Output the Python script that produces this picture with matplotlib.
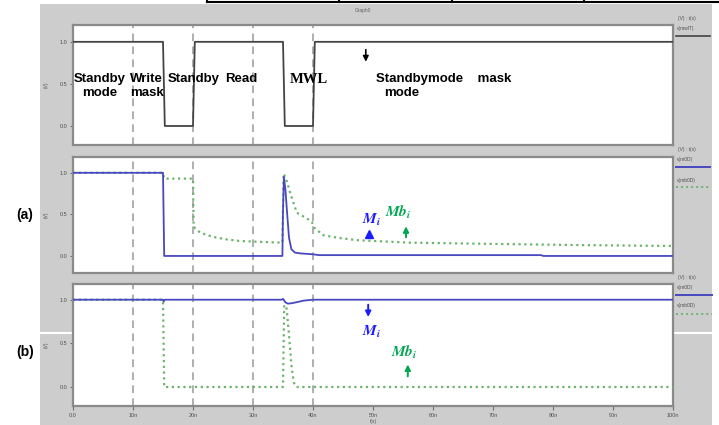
import matplotlib.pyplot as plt
from matplotlib.patches import Rectangle

plt.rcParams['font.family'] = ['Liberation Sans', 'DejaVu Sans']
plt.rcParams['mathtext.fontset'] = 'stix'

# --- waveform data (t in ns, v in V) ---
t_mwl = [0, 15, 15.3, 20, 20.3, 35, 35.3, 40, 40.3, 100]
v_mwl = [1, 1, 0, 0, 1, 1, 0, 0, 1, 1]

t_m0_a = [0, 15, 15.2, 34.9, 35.0, 35.15, 35.4, 35.7, 36.0, 36.4, 37.0, 38.0, 40.0, 41.0, 78.0, 78.4, 100]
v_m0_a = [1, 1, 0, 0, 0.55, 0.95, 0.8, 0.5, 0.22, 0.08, 0.04, 0.03, 0.02, 0.01, 0.01, 0.0, 0.0]

t_mb0_a = [0, 15, 15.2, 20, 20.1, 21.2, 23.3, 25.5, 27.8, 31, 34.9,
           35.1, 35.5, 36.2, 37.3, 39.0, 39.8, 40.2, 41.7, 44.0, 47.3,
           56, 65, 75, 85, 100]
v_mb0_a = [1, 1, 0.93, 0.93, 0.35, 0.28, 0.23, 0.2, 0.18, 0.17, 0.16,
           0.99, 0.93, 0.76, 0.52, 0.45, 0.41, 0.34, 0.25, 0.22, 0.19,
           0.16, 0.15, 0.14, 0.13, 0.12]

t_m0_b = [0, 15, 15.1, 15.3, 34.8, 35.0, 35.4, 35.8, 36.5, 37.5, 38.5, 40, 100]
v_m0_b = [1, 1, 0.98, 1, 1, 1.01, 0.97, 0.955, 0.96, 0.975, 0.99, 1, 1]

t_mb0_b = [0, 15, 15.2, 35.0, 35.2, 35.6, 36.0, 36.4, 36.8, 37.2, 100]
v_mb0_b = [1, 1, 0, 0, 0.94, 0.9, 0.6, 0.25, 0.05, 0, 0]

xticks = [0, 10, 20, 30, 40, 50, 60, 70, 80, 90, 100]
xticklabels = ['0.0', '10n', '20n', '30n', '40n', '50n', '60n', '70n', '80n', '90n', '100n']
yticks = [0.0, 0.5, 1.0]
markers_t = [10, 20, 30, 40]

W, H = 719, 425
BLUE = '#4848c0'
GREEN = '#6cb46c'
GRAY_BG = '#cdcdcd'

fig = plt.figure(figsize=(W / 100, H / 100), dpi=100)

# overlay in pixel coordinates for background and decorations
bg = fig.add_axes([0, 0, 1, 1], zorder=0)
bg.set_xlim(0, W)
bg.set_ylim(H, 0)
bg.axis('off')
bg.add_patch(Rectangle((40, 4), 672, 421, color=GRAY_BG, lw=0))
bg.plot([207, 719], [2, 2], color='black', lw=1.5)
for x in [207, 339, 452, 584]:
    bg.plot([x, x], [0, 2], color='black', lw=1.5)
bg.plot([40, 73], [333, 333], color='white', lw=1.5)
bg.plot([673, 719], [333, 333], color='white', lw=1.5)
bg.text(363, 10, 'Graph0', fontsize=3.5, color='#606060', ha='center', va='center')


def panel(y0, y1, ylim):
    ax = fig.add_axes([73 / W, 1 - y1 / H, 600 / W, (y1 - y0) / H], zorder=1)
    ax.set_xlim(0, 100)
    ax.set_ylim(*ylim)
    for s in ax.spines.values():
        s.set_color('#8a8a8a')
        s.set_linewidth(1.6)
    ax.set_yticks(yticks)
    ax.set_yticklabels(['0.0', '0.5', '1.0'])
    ax.tick_params(axis='y', length=2, width=0.8, color='#707070',
                   labelsize=4, labelcolor='#505050', pad=2)
    ax.set_ylabel('(V)', fontsize=3.5, color='#505050', labelpad=8)
    for t in markers_t:
        ax.axvline(t, color='#999999', lw=1.1, ls=(0, (5, 3.5)), zorder=1)
    return ax


ax0 = panel(25, 145, (-0.226, 1.2))
ax0.set_xticks([])
ax0.plot(t_mwl, v_mwl, color='#444444', lw=1.3, zorder=3)

axa = panel(157, 273, (-0.205, 1.19))
axa.set_xticks([])
axa.plot(t_mb0_a, v_mb0_a, color=GREEN, lw=1.6, ls=(0, (1, 1.6)), zorder=3)
axa.plot(t_m0_a, v_m0_a, color=BLUE, lw=1.3, zorder=4)

axb = panel(284, 406, (-0.218, 1.18))
axb.plot(t_mb0_b, v_mb0_b, color=GREEN, lw=1.6, ls=(0, (1, 1.6)), zorder=3)
axb.plot(t_m0_b, v_m0_b, color=BLUE, lw=1.3, zorder=4)
axb.set_xticks(xticks)
axb.set_xticklabels(xticklabels)
axb.tick_params(axis='x', length=3, width=0.8, color='#707070',
                labelsize=4, labelcolor='#505050', pad=2)
axb.set_xlabel('t(s)', fontsize=3.5, color='#505050', labelpad=1)

# mode labels in top panel
lab = dict(fontsize=9.5, fontweight='bold', color='black', zorder=5)
ax0.text(0.1, 0.56, 'Standby', ha='left', va='center', **lab)
ax0.text(1.5, 0.39, 'mode', ha='left', va='center', **lab)
ax0.text(9.5, 0.56, 'Write', ha='left', va='center', **lab)
ax0.text(9.6, 0.39, 'mask', ha='left', va='center', **lab)
ax0.text(15.8, 0.56, 'Standby', ha='left', va='center', **lab)
ax0.text(25.4, 0.56, 'Read', ha='left', va='center', **lab)
ax0.text(36.2, 0.55, 'MWL', ha='left', va='center', fontsize=10.5,
         fontweight='bold', family='Liberation Serif', zorder=5)
ax0.text(50.5, 0.56, 'Standbymode    mask', ha='left', va='center', **lab)
ax0.text(51.8, 0.39, 'mode', ha='left', va='center', **lab)
ax0.annotate('', xy=(48.8, 0.73), xytext=(48.8, 0.94),
             arrowprops=dict(arrowstyle='-|>', color='black', lw=1.2,
                             mutation_scale=8))

# annotations in panel (a)
axa.text(49.7, 0.43, r'$\mathbfit{M_i}$', color='#1a1aff', fontsize=11,
         ha='center', va='center')
axa.plot([49.3], [0.265], marker='^', color='#1a1aff', ms=6)
axa.text(54.2, 0.52, r'$\mathbfit{Mb_i}$', color='#00a651', fontsize=11,
         ha='center', va='center')
axa.annotate('', xy=(55.5, 0.39), xytext=(55.5, 0.19),
             arrowprops=dict(arrowstyle='-|>', color='#00a651', lw=1.4,
                             mutation_scale=8))

# annotations in panel (b)
axb.annotate('', xy=(49.2, 0.77), xytext=(49.2, 0.975),
             arrowprops=dict(arrowstyle='-|>', color='#1a1aff', lw=1.4,
                             mutation_scale=8))
axb.text(49.7, 0.63, r'$\mathbfit{M_i}$', color='#1a1aff', fontsize=11,
         ha='center', va='center')
axb.text(55.3, 0.39, r'$\mathbfit{Mb_i}$', color='#00a651', fontsize=11,
         ha='center', va='center')
axb.annotate('', xy=(55.8, 0.29), xytext=(55.8, 0.09),
             arrowprops=dict(arrowstyle='-|>', color='#00a651', lw=1.4,
                             mutation_scale=8))

# panel tags
bg.text(16, 215, '(a)', fontsize=10, fontweight='bold', va='center', zorder=5)
bg.text(16, 352, '(b)', fontsize=10, fontweight='bold', va='center', zorder=5)

# side legend of the simulator window
small = dict(fontsize=3.5, color='#505050', va='center', ha='left')
bg.text(678, 18, '(V) : t(s)', **small)
bg.text(677, 28, 'v(mwlT)', **small)
bg.plot([676, 710], [36, 36], color='#444444', lw=1.2)
bg.text(678, 150, '(V) : t(s)', **small)
bg.text(677, 160, 'v(m0D)', **small)
bg.plot([676, 710], [167, 167], color=BLUE, lw=1.4)
bg.text(677, 180, 'v(mb0D)', **small)
bg.plot([676, 710], [187, 187], color=GREEN, lw=1.4, ls=(0, (1, 1.6)))
bg.text(678, 277, '(V) : t(s)', **small)
bg.text(677, 288, 'v(m0D)', **small)
bg.plot([676, 712], [295, 295], color=BLUE, lw=1.4)
bg.text(677, 306, 'v(mb0D)', **small)
bg.plot([676, 712], [314, 314], color=GREEN, lw=1.4, ls=(0, (1, 1.6)))

fig.savefig('out.png', dpi=100)
